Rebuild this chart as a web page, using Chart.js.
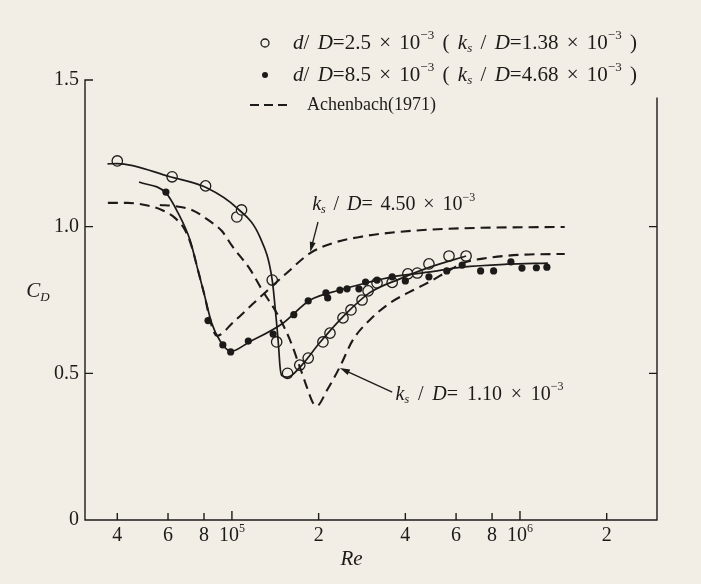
<!DOCTYPE html>
<html>
<head>
<meta charset="utf-8">
<script src="https://cdn.jsdelivr.net/npm/chart.js@4/dist/chart.umd.min.js"></script>
<style>
  html, body { margin: 0; padding: 0; background: #f2eee6; }
  #wrap { width: 701px; height: 584px; }
</style>
</head>
<body>
<div id="wrap"><canvas id="cd" width="701" height="584"></canvas></div>
<script>
// ---- values: Re and C_D ----
// open circles, d/D = 2.5e-3
const openRe = [4.0e4, 6.2e4, 8.1e4, 1.04e5, 1.08e5, 1.38e5, 1.43e5, 1.56e5, 1.72e5, 1.84e5, 2.07e5, 2.19e5,
                2.43e5, 2.59e5, 2.83e5, 2.97e5, 3.19e5, 3.6e5, 4.08e5, 4.4e5, 4.83e5, 5.67e5, 6.5e5];
const openCd = [1.224, 1.17, 1.139, 1.033, 1.057, 0.818, 0.607, 0.50, 0.528, 0.552, 0.607, 0.637,
                0.689, 0.716, 0.750, 0.781, 0.808, 0.81, 0.839, 0.842, 0.873, 0.90, 0.90];

// filled dots, d/D = 8.5e-3
const filledRe = [5.9e4, 8.26e4, 9.3e4, 9.9e4, 1.14e5, 1.39e5, 1.64e5, 1.84e5, 2.12e5, 2.15e5, 2.37e5, 2.51e5,
                  2.76e5, 2.91e5, 3.19e5, 3.6e5, 4.0e5, 4.83e5, 5.57e5, 6.3e5, 7.3e5, 8.1e5, 9.3e5, 1.016e6, 1.14e6, 1.24e6];
const filledCd = [1.118, 0.68, 0.597, 0.573, 0.61, 0.634, 0.70, 0.747, 0.774, 0.757, 0.784, 0.788,
                  0.788, 0.811, 0.818, 0.829, 0.815, 0.829, 0.849, 0.869, 0.849, 0.849, 0.88, 0.859, 0.86, 0.862];

// faired solid curves through the two sets
const openCurveRe = [3.7e4, 4.0e4, 6.1e4, 8.2e4, 1.04e5, 1.25e5, 1.38e5, 1.42e5, 1.45e5, 1.47e5, 1.49e5, 1.56e5,
                     1.72e5, 2.02e5, 2.47e5, 3.01e5, 3.83e5, 4.87e5, 6.5e5];
const openCurveCd = [1.214, 1.215, 1.17, 1.132, 1.064, 0.965, 0.818, 0.70, 0.60, 0.52, 0.492, 0.487,
                     0.52, 0.605, 0.70, 0.775, 0.822, 0.862, 0.90];

const filledCurveRe = [4.76e4, 5.9e4, 6.5e4, 7.15e4, 7.62e4, 8.06e4, 8.5e4, 9.1e4, 9.9e4, 1.15e5, 1.49e5, 1.87e5,
                       2.37e5, 2.91e5, 3.6e5, 4.8e5, 6.3e5, 9.0e5, 1.25e6];
const filledCurveCd = [1.152, 1.115, 1.047, 0.955, 0.852, 0.76, 0.672, 0.61, 0.575, 0.607, 0.668, 0.75,
                       0.784, 0.808, 0.829, 0.845, 0.862, 0.872, 0.876];

// Achenbach (1971), dashed
const ach450Re = [3.71e4, 4.35e4, 4.99e4, 5.71e4, 6.34e4, 6.87e4, 7.26e4, 7.62e4, 8.06e4, 8.39e4, 8.87e4, 1.008e5,
                  1.18e5, 1.32e5, 1.55e5, 1.87e5, 2.24e5, 2.78e5, 3.45e5, 4.87e5, 7.26e5, 1.43e6];
const ach450Cd = [1.081, 1.081, 1.074, 1.057, 1.03, 0.989, 0.93, 0.852, 0.76, 0.682, 0.628, 0.673,
                  0.736, 0.78, 0.842, 0.91, 0.944, 0.965, 0.978, 0.99, 0.996, 0.999];

const ach110Re = [5.62e4, 6.34e4, 7.26e4, 8.26e4, 9.23e4, 1.0e5, 1.155e5, 1.28e5, 1.43e5, 1.59e5, 1.72e5, 1.82e5,
                  1.91e5, 1.97e5, 2.14e5, 2.37e5, 2.63e5, 3.01e5, 3.54e5, 4.39e5, 4.98e5, 5.57e5, 6.34e5, 7.67e5,
                  1.0e6, 1.43e6];
const ach110Cd = [1.074, 1.07, 1.057, 1.023, 0.985, 0.935, 0.855, 0.78, 0.706, 0.614, 0.522, 0.453,
                  0.40, 0.389, 0.443, 0.522, 0.614, 0.682, 0.74, 0.79, 0.818, 0.846, 0.876, 0.893,
                  0.904, 0.907];

// axis ticks
const xTicks = [4e4, 6e4, 8e4, 1e5, 2e5, 4e5, 6e5, 8e5, 1e6, 2e6];
const xTickLabels = ['4', '6', '8', '10^5', '2', '4', '6', '8', '10^6', '2'];
const yTicks = [0, 0.5, 1.0, 1.5];
const yTickLabels = ['0', '0.5', '1.0', '1.5'];

// ---- look ----
const INK = '#1d1b19';
const PAPER = '#f2eee6';
const SERIF = '"Liberation Serif", "DejaVu Serif", serif';

const pts = (xs, ys) => xs.map((x, i) => ({ x: x, y: ys[i] }));

function fontOf(size, italic) {
    return (italic ? 'italic ' : '') + size + 'px ' + SERIF;
}

// parts: [text, kind]  kind: n normal, i italic, is italic subscript, sup superscript
const small = k => k === 'is' || k === 'sup';
function partFont(kind, size) {
    if (small(kind)) return fontOf(Math.round(size * 0.62), kind === 'is');
    return fontOf(size, kind === 'i');
}
function partShift(kind, size) {
    if (kind === 'is') return size * 0.28;
    if (kind === 'sup') return -size * 0.36;
    return 0;
}
// draws char by char; when width is given the spare room goes into the spaces
function drawRich(ctx, parts, x, y, size, width, align) {
    ctx.save();
    ctx.textBaseline = 'middle';
    ctx.textAlign = 'left';
    let natural = 0;
    let spaces = 0;
    parts.forEach(p => {
        ctx.font = partFont(p[1], size);
        natural += ctx.measureText(p[0]).width;
        spaces += (p[0].match(/ /g) || []).length;
    });
    let extra = 0;
    if (width && spaces > 0) extra = Math.max(0, (width - natural) / spaces);
    const total = natural + extra * spaces;
    let cx = x;
    if (align === 'center') cx = x - total / 2;
    if (align === 'right') cx = x - total;
    parts.forEach(p => {
        ctx.font = partFont(p[1], size);
        for (const ch of p[0]) {
            if (ch === ' ') cx += extra;
            else ctx.fillText(ch, cx, y + partShift(p[1], size));
            cx += ctx.measureText(ch).width;
        }
    });
    ctx.restore();
}

function arrow(ctx, x1, y1, x2, y2) {
    const a = Math.atan2(y2 - y1, x2 - x1);
    ctx.beginPath();
    ctx.moveTo(x1, y1);
    ctx.lineTo(x2 - Math.cos(a) * 6, y2 - Math.sin(a) * 6);
    ctx.stroke();
    ctx.beginPath();
    ctx.moveTo(x2, y2);
    ctx.lineTo(x2 - Math.cos(a) * 10 + Math.sin(a) * 3, y2 - Math.sin(a) * 10 - Math.cos(a) * 3);
    ctx.lineTo(x2 - Math.cos(a) * 10 - Math.sin(a) * 3, y2 - Math.sin(a) * 10 + Math.cos(a) * 3);
    ctx.closePath();
    ctx.fill();
}

// curve labels with their arrows (data coordinates)
const notes = [
    { parts: [['k', 'i'], ['s', 'is'], [' / ', 'n'], ['D', 'i'], ['= 4.50 × 10', 'n'], ['−3', 'sup']],
      at: [1.9e5, 1.075], width: 163, tail: [1.99e5, 1.016], tip: [1.87e5, 0.914] },
    { parts: [['k', 'i'], ['s', 'is'], [' / ', 'n'], ['D', 'i'], ['= 1.10 × 10', 'n'], ['−3', 'sup']],
      at: [3.7e5, 0.428], width: 168, tail: [3.6e5, 0.436], tip: [2.37e5, 0.518] }
];

const legendRows = [
    [['d', 'i'], ['/ ', 'n'], ['D', 'i'], ['=2.5 × 10', 'n'], ['−3', 'sup'], [' ( ', 'n'], ['k', 'i'], ['s', 'is'],
     [' / ', 'n'], ['D', 'i'], ['=1.38 × 10', 'n'], ['−3', 'sup'], [' )', 'n']],
    [['d', 'i'], ['/ ', 'n'], ['D', 'i'], ['=8.5 × 10', 'n'], ['−3', 'sup'], [' ( ', 'n'], ['k', 'i'], ['s', 'is'],
     [' / ', 'n'], ['D', 'i'], ['=4.68 × 10', 'n'], ['−3', 'sup'], [' )', 'n']],
    [['Achenbach(1971)', 'n']]
];

const paperPlugin = {
    id: 'paper',
    beforeDraw(chart) {
        const ctx = chart.ctx;
        ctx.save();
        ctx.fillStyle = PAPER;
        ctx.fillRect(0, 0, chart.width, chart.height);
        ctx.restore();
    },
    afterDraw(chart) {
        const ctx = chart.ctx;
        const xs = chart.scales.x;
        const ys = chart.scales.y;
        const a = chart.chartArea;
        ctx.save();
        ctx.strokeStyle = INK;
        ctx.fillStyle = INK;
        ctx.lineWidth = 1.4;

        // frame: left, bottom, right
        ctx.beginPath();
        ctx.moveTo(a.left + 8, ys.getPixelForValue(1.5));
        ctx.lineTo(a.left, ys.getPixelForValue(1.5));
        ctx.lineTo(a.left, a.bottom);
        ctx.lineTo(a.right, a.bottom);
        ctx.lineTo(a.right, ys.getPixelForValue(1.44));
        ctx.stroke();

        // y ticks and labels
        yTicks.forEach((v, i) => {
            const py = ys.getPixelForValue(v);
            if (v > 0 && v < 1.5) {
                ctx.beginPath();
                ctx.moveTo(a.left, py); ctx.lineTo(a.left + 8, py);
                ctx.moveTo(a.right, py); ctx.lineTo(a.right - 8, py);
                ctx.stroke();
            }
            drawRich(ctx, [[yTickLabels[i], 'n']], a.left - 6, py, 20, 0, 'right');
        });

        // x ticks and labels
        xTicks.forEach((v, i) => {
            const px = xs.getPixelForValue(v);
            const lab = xTickLabels[i];
            const major = lab.indexOf('^') > 0;
            ctx.beginPath();
            ctx.moveTo(px, a.bottom);
            ctx.lineTo(px, a.bottom - (major ? 9 : 7));
            ctx.stroke();
            const parts = major ? [[lab.split('^')[0], 'n'], [lab.split('^')[1], 'sup']] : [[lab, 'n']];
            drawRich(ctx, parts, px, a.bottom + 16, 20, 0, 'center');
        });

        // axis titles
        drawRich(ctx, [['C', 'i'], ['D', 'is']], 38, ys.getPixelForValue(0.78), 21, 0, 'center');
        drawRich(ctx, [['Re', 'i']], xs.getPixelForValue(2.6e5), a.bottom + 39, 21, 0, 'center');

        // curve labels and arrows
        ctx.lineWidth = 1.3;
        notes.forEach(n => {
            drawRich(ctx, n.parts, xs.getPixelForValue(n.at[0]), ys.getPixelForValue(n.at[1]), 20, n.width, 'left');
            arrow(ctx, xs.getPixelForValue(n.tail[0]), ys.getPixelForValue(n.tail[1]),
                  xs.getPixelForValue(n.tip[0]), ys.getPixelForValue(n.tip[1]));
        });

        // legend
        const lx = 265;
        const rowsY = [43, 75, 105];
        ctx.lineWidth = 1.3;
        ctx.beginPath();
        ctx.arc(lx, rowsY[0], 4, 0, Math.PI * 2);
        ctx.stroke();
        ctx.beginPath();
        ctx.arc(lx, rowsY[1], 3, 0, Math.PI * 2);
        ctx.fill();
        ctx.lineWidth = 2.2;
        ctx.setLineDash([9, 5]);
        ctx.beginPath();
        ctx.moveTo(250, rowsY[2]);
        ctx.lineTo(291, rowsY[2]);
        ctx.stroke();
        ctx.setLineDash([]);
        drawRich(ctx, legendRows[0], 293, rowsY[0], 21, 344, 'left');
        drawRich(ctx, legendRows[1], 293, rowsY[1], 21, 344, 'left');
        drawRich(ctx, legendRows[2], 307, rowsY[2], 18, 0, 'left');
        ctx.restore();
    }
};

const curve = (data, dash) => ({
    data: data,
    showLine: true,
    borderColor: INK,
    borderWidth: dash ? 2.1 : 1.7,
    borderDash: dash ? [10, 6] : [],
    pointRadius: 0,
    cubicInterpolationMode: 'monotone',
    fill: false
});

new Chart(document.getElementById('cd'), {
    type: 'scatter',
    data: {
        datasets: [
            curve(pts(ach450Re, ach450Cd), true),
            curve(pts(ach110Re, ach110Cd), true),
            curve(pts(filledCurveRe, filledCurveCd), false),
            curve(pts(openCurveRe, openCurveCd), false),
            {
                data: pts(filledRe, filledCd),
                pointRadius: 3.6,
                pointBackgroundColor: INK,
                pointBorderColor: INK,
                pointBorderWidth: 0
            },
            {
                data: pts(openRe, openCd),
                pointRadius: 5.2,
                pointBackgroundColor: PAPER,
                pointBorderColor: INK,
                pointBorderWidth: 1.3
            }
        ]
    },
    options: {
        responsive: false,
        animation: false,
        devicePixelRatio: 1,
        layout: { padding: { left: 85, right: 44, top: 80, bottom: 64 } },
        plugins: { legend: { display: false }, tooltip: { enabled: false } },
        scales: {
            x: { type: 'logarithmic', min: 3.09e4, max: 2.99e6, display: false },
            y: { type: 'linear', min: 0, max: 1.5, display: false }
        }
    },
    plugins: [paperPlugin]
});
</script>
</body>
</html>
